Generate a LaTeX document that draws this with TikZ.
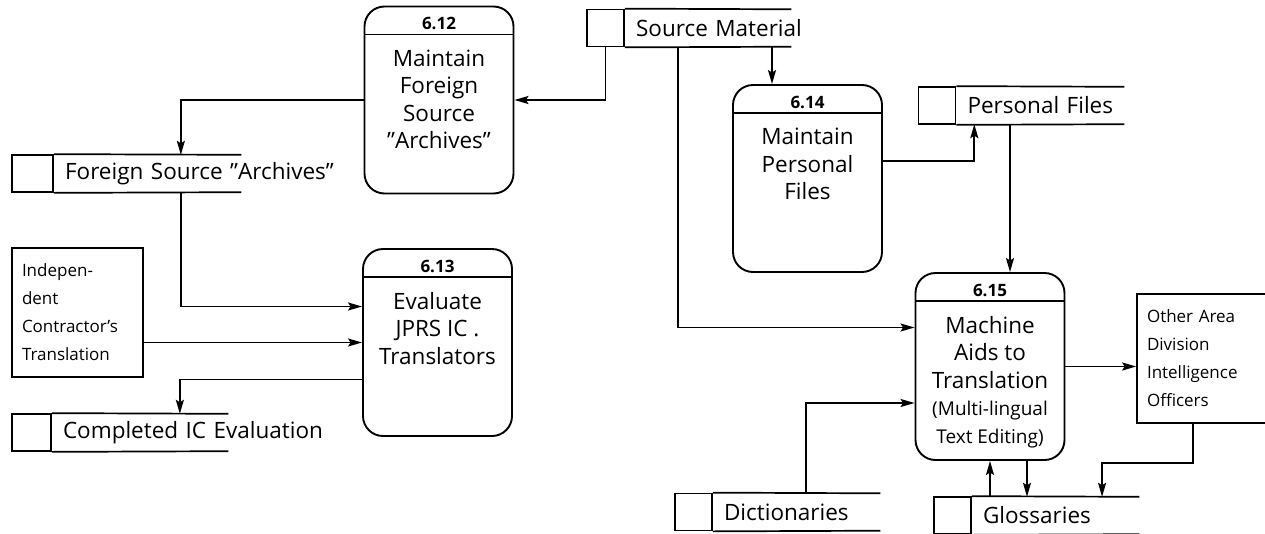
\documentclass[tikz,border=0pt]{standalone}
\usepackage{fontspec}
\setmainfont{Open Sans}
\usetikzlibrary{arrows.meta,positioning,calc}

\tikzset{
  proc/.style={draw,line width=1.9pt,rounded corners=20pt,minimum width=149pt,minimum height=187pt,
    path picture={\draw[line width=1.7pt] ([yshift=-28pt]path picture bounding box.north west)
      -- ([yshift=-28pt]path picture bounding box.north east);}},
  num/.style={inner sep=0pt,font=\bfseries\fontsize{17}{20}\selectfont},
  ptext/.style={anchor=north,align=center,inner sep=0pt,font=\fontsize{22.5}{27.5}\selectfont},
  sbox/.style={draw,line width=1.7pt,minimum width=37pt,minimum height=37pt,inner sep=0pt},
  store/.style={minimum height=37pt,inner xsep=11pt,inner ysep=0pt,align=left,font=\fontsize{22.5}{27}\selectfont},
  ext/.style={draw,line width=1.7pt,minimum width=131pt,minimum height=129pt,inner xsep=10pt,
    text width=111pt,align=left,font=\fontsize{17}{28}\selectfont},
  flow/.style={line width=1.7pt,-{Stealth[length=14pt,width=8pt,inset=2.5pt]}}
}

\begin{document}
\begin{tikzpicture}[x=1pt,y=-1pt]
\useasboundingbox (0,0) rectangle (1265,533);

% processes
\node[proc] (p612) at (439,100) {};
\node[num] (n612) at ([yshift=-18pt]p612.north) {6.12};
\node[ptext] (t612) at ([yshift=-44pt]p612.north) {Maintain\\Foreign\\Source\\"Archives"};

\node[proc] (p613) at (437.5,342.5) {};
\node[num] (n613) at ([yshift=-18pt]p613.north) {6.13};
\node[ptext] (t613) at ([yshift=-44pt]p613.north) {Evaluate\\JPRS IC .\\Translators};

\node[proc] (p614) at (807.5,178.5) {};
\node[num] (n614) at ([yshift=-18pt]p614.north) {6.14};
\node[ptext] (t614) at ([yshift=-44pt]p614.north) {Maintain\\Personal\\Files};

\node[proc] (p615) at (990,366.5) {};
\node[num] (n615) at ([yshift=-18pt]p615.north) {6.15};
\node[ptext] (t615) at ([yshift=-44pt]p615.north) {Machine\\Aids to\\Translation\\
  {\fontsize{19}{27.5}\selectfont(Multi-lingual}\\{\fontsize{19}{27.5}\selectfont Text Editing)}};

% data stores
\node[sbox] (smb) at (605.5,28) {};
\node[store,right=0pt of smb,text width=144pt] (sm) {\mbox{Source Material}};
\node[sbox,minimum width=41pt] (fsb) at (32.5,173.5) {};
\node[store,right=0pt of fsb,text width=165pt] (fs) {\mbox{Foreign Source "Archives"}};
\node[sbox,minimum width=39pt] (ceb) at (31.5,432.5) {};
\node[store,right=0pt of ceb,text width=154pt] (ce) {\mbox{Completed IC Evaluation}};
\node[sbox] (pfb) at (937,105.5) {};
\node[store,right=0pt of pfb,text width=145.5pt] (pf) {\mbox{Personal Files}};
\node[sbox] (dib) at (693.5,512) {};
\node[store,right=0pt of dib,text width=145pt] (di) {\mbox{Dictionaries}};
\node[sbox] (glb) at (952.5,515.5) {};
\node[store,right=0pt of glb,text width=145pt] (gl) {\mbox{Glossaries}};

\foreach \b/\t in {smb/sm,fsb/fs,ceb/ce,pfb/pf,dib/di,glb/gl}
  \draw[line width=1.7pt] (\b.north east) -- (\t.north east) (\b.south east) -- (\t.south east);

% external entities
\node[ext] (ind) at (77.5,312.5) {Indepen-\\dent\\Contractor's\\Translation};
\node[ext] (oth) at (1202.5,358.5) {Other Area\\Division\\Intelligence\\Officers};

% flows
\draw[flow] (smb.south) |- (p612.east);
\draw[flow] (p612.west) -| ([xshift=127pt]fs.north west);
\draw[flow] ([xshift=127pt]fs.south west) |- ([yshift=36pt]p613.west);
\draw[flow] (p613.west -| ind.east) -- (p613.west);
\draw[flow] ([yshift=-37pt]p613.west) -| ([xshift=128pt]ce.north west);
\draw[flow] ([xshift=-35.5pt]p614.north |- sm.south) -- ([xshift=-35.5pt]p614.north);
\draw[flow] ([xshift=-30pt]sm.south) |- ([yshift=39pt]p615.west);
\draw[flow] ([yshift=17.5pt]p614.east) -| ([xshift=-66pt]pf.south);
\draw[flow] ([xshift=20pt]p615.north |- pf.south) -- ([xshift=20pt]p615.north);
\draw[flow] ([xshift=9.5pt]di.north) |- ([yshift=-36.5pt]p615.west);
\draw[flow] (p615.east) -- (p615.east -| oth.west);
\draw[flow] (p615.south |- gl.north) -- (p615.south);
\draw[flow] ([xshift=37pt]p615.south) -- ([xshift=37pt]p615.south |- gl.north);
\draw[flow] ([xshift=-9.5pt]oth.south) -- ++(0,39) -| ([xshift=46.5pt]gl.north);

\end{tikzpicture}
\end{document}
